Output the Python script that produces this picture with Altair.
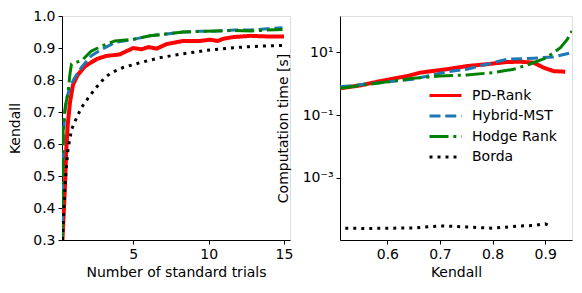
import altair as alt
import pandas as pd

METHODS = ["PD-Rank", "Hybrid-MST", "Hodge Rank", "Borda"]
COLORS = ["#ff0000", "#1f77b4", "#008000", "#000000"]
DASHES = [[1, 0], [11, 4.8], [19, 4.8, 3, 4.8], [3, 5]]

# Left panel: Kendall vs number of standard trials
pd_x = [0.30, 0.45, 0.55, 0.65, 0.80, 1.0, 1.3, 1.8, 2.6, 3.2, 4.1, 5.0, 5.55, 6.0, 6.55, 7.2, 8.3, 9.4, 10.1, 10.6, 11.0, 11.6, 12.8, 13.9, 15.0]
pd_y = [0.30, 0.45, 0.58, 0.66, 0.73, 0.785, 0.815, 0.843, 0.866, 0.875, 0.880, 0.900, 0.896, 0.903, 0.898, 0.912, 0.922, 0.922, 0.926, 0.922, 0.929, 0.934, 0.938, 0.936, 0.936]

mst_x = [0.28, 0.32, 0.38, 0.45, 0.60, 0.78, 1.11, 1.56, 2.2, 2.9, 3.78, 5.0, 6.1, 7.2, 8.3, 9.45, 10.5, 11.7, 12.8, 13.9, 14.9]
mst_y = [0.30, 0.50, 0.63, 0.70, 0.745, 0.776, 0.807, 0.839, 0.875, 0.896, 0.917, 0.927, 0.938, 0.944, 0.950, 0.952, 0.953, 0.956, 0.956, 0.960, 0.963]

hodge_x = [0.27, 0.30, 0.35, 0.50, 0.67, 0.80, 0.90, 1.2, 1.56, 2.2, 2.9, 3.78, 5.0, 6.1, 7.2, 8.3, 9.45, 10.5, 11.7, 12.8, 13.9, 14.9]
hodge_y = [0.30, 0.50, 0.65, 0.72, 0.76, 0.82, 0.85, 0.855, 0.860, 0.890, 0.906, 0.922, 0.927, 0.938, 0.944, 0.950, 0.952, 0.953, 0.955, 0.953, 0.956, 0.958]

borda_x = [0.30, 0.40, 0.45, 0.56, 0.67, 0.90, 1.22, 1.56, 2.0, 2.44, 3.1, 3.56, 4.33, 5.45, 6.78, 8.33, 9.9, 11.67, 13.4, 15.0]
borda_y = [0.30, 0.40, 0.455, 0.527, 0.584, 0.645, 0.680, 0.714, 0.743, 0.771, 0.807, 0.823, 0.839, 0.854, 0.870, 0.882, 0.893, 0.901, 0.906, 0.908]

# Right panel: computation time vs Kendall
pd_k = [0.51, 0.55, 0.586, 0.637, 0.662, 0.713, 0.751, 0.789, 0.827, 0.852, 0.878, 0.897, 0.916, 0.938]
pd_t = [0.71, 0.89, 1.2, 1.74, 2.24, 2.88, 3.63, 4.17, 4.9, 5.0, 4.68, 3.24, 2.51, 2.4]

mst_k = [0.51, 0.586, 0.649, 0.713, 0.751, 0.789, 0.827, 0.878, 0.916, 0.951]
mst_t = [0.79, 1.07, 1.38, 2.4, 2.88, 4.17, 6.0, 6.5, 7.1, 9.8]

hodge_k = [0.51, 0.586, 0.649, 0.70, 0.751, 0.80, 0.84, 0.87, 0.903, 0.929, 0.942, 0.951]
hodge_t = [0.71, 1.07, 1.48, 1.74, 1.9, 2.24, 2.88, 4.17, 6.8, 14.1, 25.7, 47.9]

borda_k = [0.52, 0.56, 0.60, 0.65, 0.70, 0.75, 0.80, 0.852, 0.88, 0.90, 0.91]
borda_t = [2.45e-5, 2.4e-5, 2.45e-5, 2.5e-5, 2.9e-5, 2.7e-5, 2.45e-5, 2.9e-5, 3.0e-5, 3.4e-5, 2.9e-5]

left_rows = []
for m, xs, ys in zip(METHODS, [pd_x, mst_x, hodge_x, borda_x], [pd_y, mst_y, hodge_y, borda_y]):
    for i, (a, b) in enumerate(zip(xs, ys)):
        left_rows.append({"method": m, "trials": a, "kendall": b, "order": i})
right_rows = []
for m, xs, ys in zip(METHODS, [pd_k, mst_k, hodge_k, borda_k], [pd_t, mst_t, hodge_t, borda_t]):
    for i, (a, b) in enumerate(zip(xs, ys)):
        right_rows.append({"method": m, "kendall": a, "time": b, "order": i})
left_df = pd.DataFrame(left_rows)
right_df = pd.DataFrame(right_rows)

FONT = "DejaVu Sans"
FS = 14

color_scale = alt.Scale(domain=METHODS, range=COLORS)
dash_scale = alt.Scale(domain=METHODS, range=DASHES)
width_cond = alt.condition(alt.datum.method == "PD-Rank", alt.value(4), alt.value(3))

axis_common = dict(domainColor="black", tickColor="black", labelColor="black", titleColor="black",
                   labelFont=FONT, titleFont=FONT, labelFontSize=FS, titleFontSize=FS,
                   titleFontWeight="normal", grid=False, tickSize=4, labelPadding=3, domainWidth=1, tickWidth=1)

left = alt.Chart(left_df).mark_line(clip=True).encode(
    x=alt.X("trials:Q", scale=alt.Scale(domain=[0.27, 15.4], nice=False, zero=False),
            axis=alt.Axis(values=[5, 10, 15], title="Number of standard trials", titlePadding=4, **axis_common)),
    y=alt.Y("kendall:Q", scale=alt.Scale(domain=[0.3, 1.0], nice=False, zero=False),
            axis=alt.Axis(values=[0.3, 0.4, 0.5, 0.6, 0.7, 0.8, 0.9, 1.0], format=".1f", title="Kendall",
                          titlePadding=10, **axis_common)),
    color=alt.Color("method:N", scale=color_scale, legend=None),
    strokeDash=alt.StrokeDash("method:N", scale=dash_scale, legend=None),
    strokeWidth=width_cond,
    order="order:Q",
).properties(width=228, height=224)

legend = alt.Legend(
    title=None, orient="none", legendX=94, legendY=68, padding=0,
    symbolType="M-1.6,0H1.6", symbolSize=400, symbolStrokeWidth=3,
    labelFont=FONT, labelFontSize=FS, labelColor="black", labelOffset=15,
    rowPadding=1.5,
)

right = alt.Chart(right_df).mark_line(clip=True).encode(
    x=alt.X("kendall:Q", scale=alt.Scale(domain=[0.51, 0.951], nice=False, zero=False),
            axis=alt.Axis(values=[0.6, 0.7, 0.8, 0.9], format=".1f", title="Kendall", titlePadding=4, **axis_common)),
    y=alt.Y("time:Q", scale=alt.Scale(type="log", domain=[10 ** -4.987, 10 ** 2.158], nice=False),
            axis=alt.Axis(values=[0.001, 0.1, 10],
                          labelExpr="datum.value >= 5 ? '10¹' : (datum.value >= 0.05 ? '10⁻¹' : '10⁻³')",
                          title="Computation time [s]", titlePadding=12, **axis_common)),
    color=alt.Color("method:N", scale=color_scale, legend=legend),
    strokeDash=alt.StrokeDash("method:N", scale=dash_scale, legend=legend),
    strokeWidth=width_cond,
    order="order:Q",
).properties(width=232, height=224)

chart = alt.hconcat(left, right, spacing=50, bounds="flush").resolve_legend(
    color="independent", strokeDash="independent"
).configure_view(stroke=None).configure(
    padding={"left": 0, "top": 0, "right": 0, "bottom": 0}, background="white"
)

chart.save("out.html", embed_options={"renderer": "svg", "actions": False})
